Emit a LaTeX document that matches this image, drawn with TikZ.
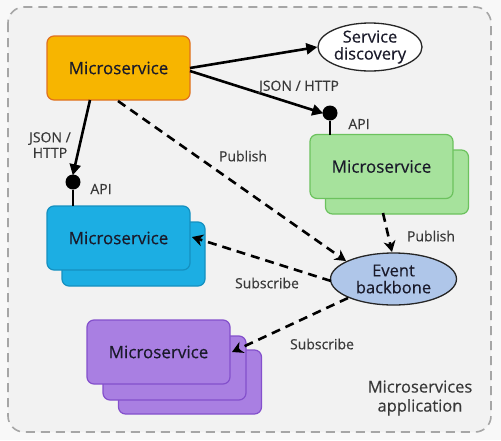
\documentclass[tikz,border=0pt]{standalone}
\usepackage{fontspec}
\setmainfont{Open Sans}[FakeBold=0.35]
\usetikzlibrary{arrows.meta,shapes.geometric}
\definecolor{bgin}{HTML}{F2F2F2}
\definecolor{bgout}{HTML}{F8F8F8}
\definecolor{orfill}{HTML}{F7B500}
\definecolor{ordraw}{HTML}{E07020}
\definecolor{grfill}{HTML}{A6E29C}
\definecolor{grdraw}{HTML}{6CC25E}
\definecolor{blfill}{HTML}{1CAEE3}
\definecolor{bldraw}{HTML}{1590C0}
\definecolor{pufill}{HTML}{A97FE2}
\definecolor{pudraw}{HTML}{8450CC}
\definecolor{evfill}{HTML}{AFC6E9}
\definecolor{txt}{HTML}{1A1A2A}
\tikzset{
  msbox/.style={draw, line width=1.2pt, rounded corners=7pt, minimum width=143pt, minimum height=64pt, font=\fontsize{17}{19}\selectfont, text=txt},
  ell/.style={ellipse, draw=black!85, line width=1.3pt, align=center, font=\fontsize{16.5}{17}\selectfont, text=txt, inner sep=0pt},
  solidarr/.style={line width=2.6pt, -{Triangle[length=11pt,width=11pt]}},
  dasharr/.style={line width=2.6pt, dash pattern=on 9pt off 6pt, -{Stealth[length=11pt,width=12pt,inset=3.5pt]}},
  lbl/.style={font=\fontsize{14}{15.5}\selectfont, text=black!78, align=center},
  apidot/.style={circle, fill=black, minimum size=15pt, inner sep=0pt}
}
\begin{document}
\begin{tikzpicture}[x=1pt,y=-1pt]
\fill[bgout] (0,0) rectangle (501,440);
\useasboundingbox (0,0) rectangle (501,440);
\draw[fill=bgin, draw=gray!70, line width=1.6pt, dash pattern=on 9pt off 6pt, rounded corners=16pt] (8,7) rectangle (491,432);
\node[lbl, font=\fontsize{16.5}{19}\selectfont, align=center] (appl) at (420,398) {Microservices\\application};

% orange
\node[msbox, fill=orfill, draw=ordraw] (ms1) at (118.5,68) {Microservice};
% service discovery
\node[ell, fill=white, minimum width=104pt, minimum height=48pt] (sd) at (370,47) {Service\\discovery};
% green stack
\node[msbox, fill=grfill, draw=grdraw] (gr2) at (397,182) {};
\node[msbox, fill=grfill, draw=grdraw] (gr1) at (381.5,166.5) {Microservice};
% blue stack
\node[msbox, fill=blfill, draw=bldraw] (bl2) at (133.5,254) {};
\node[msbox, fill=blfill, draw=bldraw] (bl1) at (118.5,238) {Microservice};
% purple stack
\node[msbox, fill=pufill, draw=pudraw] (pu3) at (190,382) {};
\node[msbox, fill=pufill, draw=pudraw] (pu2) at (174.5,368) {};
\node[msbox, fill=pufill, draw=pudraw] (pu1) at (158.5,352) {Microservice};
% event backbone
\node[ell, fill=evfill, minimum width=126pt, minimum height=52pt] (ev) at (393.5,279) {Event\\backbone};

% API dots
\node[apidot] (apig) at (330,113) {};
\node[apidot] (apib) at (73,182) {};
\coordinate (gtop) at (330,135);
\coordinate (btop) at (73,206);
\draw[line width=2.6pt] (apig) -- (gtop);
\draw[line width=2.6pt] (apib) -- (btop);

% solid arrows
\coordinate (o1) at (190,68);
\coordinate (o2) at (190,71);
\coordinate (o3) at (90,100);
\draw[solidarr] (o1) -- (sd.west);
\draw[solidarr, shorten >=-1pt] (o2) -- (apig.west);
\draw[solidarr, shorten >=-1pt] (o3) -- (apib.north);
\node[lbl] (l1) at (299,87) {JSON / HTTP};
\node[lbl] (l2) at (50,145) {JSON /\\HTTP};
\node[lbl] (a1) at (359,124) {API};
\node[lbl] (a2) at (101,189) {API};

% dashed arrows
\coordinate (o4) at (118,101);
\coordinate (evnw) at (346,261);
\coordinate (g4) at (383,213);
\coordinate (evn) at (392,252);
\coordinate (evw) at (331,281);
\coordinate (blr) at (192,237);
\coordinate (evsw) at (348,298);
\coordinate (pur) at (232,352);
\draw[dasharr] (o4) -- (evnw);
\draw[dasharr] (g4) -- (evn);
\draw[dasharr] (evw) -- (blr);
\draw[dasharr] (evsw) -- (pur);
\node[lbl] (p1) at (243,156) {Publish};
\node[lbl] (p2) at (431,236) {Publish};
\node[lbl] (s1) at (267,283) {Subscribe};
\node[lbl] (s2) at (322,344) {Subscribe};
\end{tikzpicture}
\end{document}
